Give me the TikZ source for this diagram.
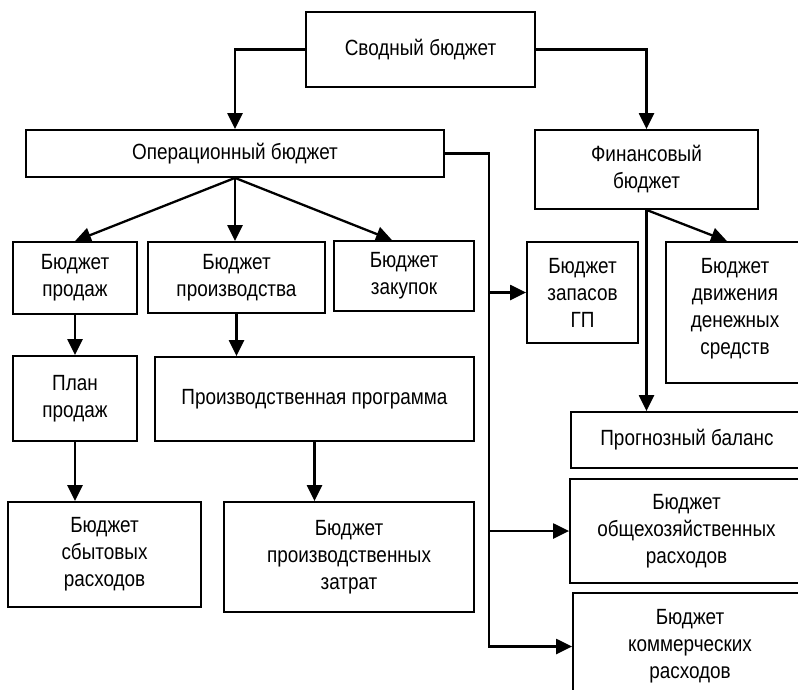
\documentclass[tikz,border=0pt]{standalone}
\usepackage{fontspec}
\setmainfont{Liberation Sans}[FakeStretch=0.86]
\usetikzlibrary{arrows.meta}
\begin{document}
\begin{tikzpicture}[x=1pt,y=-1pt,
  box/.style={draw, line width=1.8pt, align=center, inner sep=0pt,
    font=\fontsize{22}{27}\selectfont},
  conn/.style={line width=2.3pt},
  arr/.style={conn, -{Triangle[length=16pt,width=15pt]}},
]
\useasboundingbox (0,0) rectangle (798,689);
\clip (0,0) rectangle (798,689);
\fill[white] (0,0) rectangle (798,689);

\node[box, minimum width=229pt, minimum height=75pt] (svod) at (420.5,49.5) {Сводный бюджет};
\node[box, minimum width=418pt, minimum height=47pt] (oper) at (235,153.5) {Операционный бюджет};
\node[box, minimum width=223pt, minimum height=79pt] (fin) at (646.5,169.5) {Финансовый\\бюджет};
\node[box, minimum width=124pt, minimum height=72pt] (prod) at (75,278) {Бюджет\\продаж};
\node[box, minimum width=177pt, minimum height=71pt] (proizv) at (236.5,277.5) {Бюджет\\производства};
\node[box, minimum width=140pt, minimum height=70pt] (zak) at (404,276) {Бюджет\\закупок};
\node[box, minimum width=111pt, minimum height=101pt] (zap) at (582.5,292.5) {Бюджет\\запасов\\ГП};
\node[box, minimum width=138pt, minimum height=141pt, text depth=12pt] (dds) at (735,312.5) {Бюджет\\движения\\денежных\\средств};
\node[box, minimum width=124pt, minimum height=85pt] (plan) at (75,398.5) {План\\продаж};
\node[box, minimum width=319pt, minimum height=84pt] (prog) at (314.5,399) {Производственная программа};
\node[box, minimum width=232pt, minimum height=56pt] (bal) at (687,440) {Прогнозный баланс};
\node[box, minimum width=193pt, minimum height=105pt] (sbyt) at (104.5,554.5) {Бюджет\\сбытовых\\расходов};
\node[box, minimum width=250pt, minimum height=110pt] (zatr) at (349,557) {Бюджет\\производственных\\затрат};
\node[box, minimum width=233pt, minimum height=104pt] (ohr) at (686.5,531) {Бюджет\\общехозяйственных\\расходов};
\node[box, minimum width=234pt, minimum height=107pt] (kom) at (690,646.5) {Бюджет\\коммерческих\\расходов};

\draw[arr] (svod.west) -| (oper.north);
\draw[arr] (svod.east) -| (fin.north);
\draw[arr] (oper.south) -- (prod.north);
\draw[arr] (oper.south) -- (oper.south |- proizv.north);
\draw[arr] (oper.south) -- ([xshift=-12pt]zak.north);
\draw[arr] (prod.south) -- (plan.north);
\draw[arr] (proizv.south) -- (proizv.south |- prog.north);
\draw[arr] (plan.south) -- (plan.south |- sbyt.north);
\draw[arr] (prog.south) -- (prog.south |- zatr.north);

\coordinate (trunk) at (489,400);
\draw[arr] (oper.east) -| (trunk) |- (kom.west);
\draw[arr] (trunk |- zap.west) -- (zap.west);
\draw[arr] (trunk |- ohr.west) -- (ohr.west);

\draw[arr] (fin.south) -- (fin.south |- bal.north);
\draw[arr] (fin.south) -- ([xshift=-8pt]dds.north);
\end{tikzpicture}
\end{document}
